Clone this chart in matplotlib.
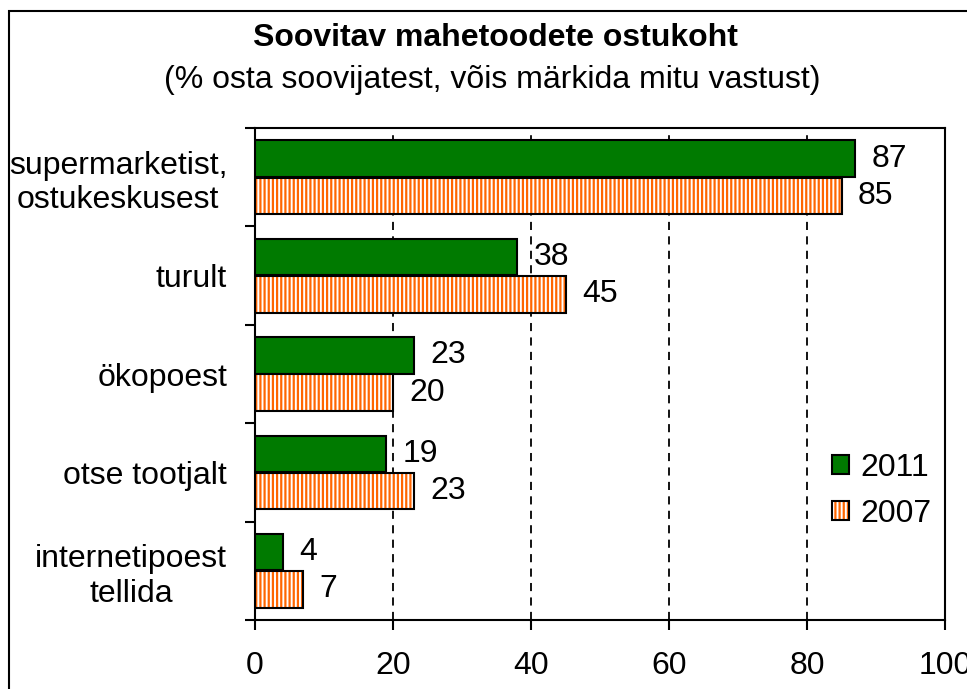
import matplotlib
matplotlib.use("Agg")
import matplotlib.pyplot as plt
from matplotlib.patches import Patch, Rectangle
from matplotlib.legend_handler import HandlerTuple
import numpy as np

categories = ["supermarketist,\nostukeskusest", "turult", "ökopoest", "otse tootjalt", "internetipoest\ntellida"]
values_2011 = [87, 38, 23, 19, 4]
values_2007 = [85, 45, 20, 23, 7]
series_labels = ["2011", "2007"]
xticks = [0, 20, 40, 60, 80, 100]
title = "Soovitav mahetoodete ostukoht"
subtitle = "(% osta soovijatest, võis märkida mitu vastust)"

GREEN = "#007A00"
ORANGE = "#FF6600"
FS = 23

plt.rcParams['font.family'] = ['Liberation Sans', 'DejaVu Sans']
plt.rcParams['hatch.linewidth'] = 1.6

W, H = 967, 689
fig = plt.figure(figsize=(W / 100, H / 100), dpi=100)
ax = fig.add_axes([255 / W, 1 - 620 / H, (945 - 255) / W, (620 - 128) / H])

y = np.arange(len(categories))
h = 0.37
off = 0.19

ax.set_axisbelow(True)
ax.xaxis.grid(True, color='black', linestyle=(0, (4.5, 3.5)), linewidth=1.3)

ax.barh(y - off, values_2011, height=h, color=GREEN, edgecolor='black', linewidth=1.5, zorder=3)
ax.barh(y + off, values_2007, height=h, color='white', edgecolor=ORANGE, hatch='||||', linewidth=0, zorder=3)
ax.barh(y + off, values_2007, height=h, fill=False, edgecolor='black', linewidth=1.5, zorder=4)

for yi, v in zip(y - off, values_2011):
    ax.text(v + 2.4, yi, str(v), va='center', ha='left', fontsize=FS)
for yi, v in zip(y + off, values_2007):
    ax.text(v + 2.4, yi, str(v), va='center', ha='left', fontsize=FS)

ax.set_xlim(0, 100)
ax.set_ylim(len(categories) - 0.5, -0.5)
ax.set_xticks(xticks)
ax.set_xticklabels([str(t) for t in xticks], fontsize=FS)
ax.tick_params(axis='x', direction='out', length=7, width=1.5, pad=15)

ax.set_yticks(y)
ax.set_yticklabels(categories, fontsize=FS, multialignment='center')
ax.tick_params(axis='y', which='major', length=0, pad=20)
ax.set_yticks(np.arange(-0.5, len(categories), 1.0), minor=True)
ax.tick_params(axis='y', which='minor', direction='out', length=7, width=1.5)

for s in ax.spines.values():
    s.set_linewidth(1.5)

# legend
h2011 = Patch(facecolor=GREEN, edgecolor='black', linewidth=1.5)
h2007a = Patch(facecolor='white', edgecolor=ORANGE, hatch='||||', linewidth=0)
h2007b = Patch(fill=False, edgecolor='black', linewidth=1.5)
ax.legend([h2011, (h2007a, h2007b)], series_labels,
          handler_map={tuple: HandlerTuple(ndivide=1)},
          loc='upper left', bbox_to_anchor=((826 - 255) / (945 - 255) - 0.01, 1 - (440 - 128) / (620 - 128)),
          frameon=False, fontsize=FS, handlelength=0.55, handleheight=0.55,
          handletextpad=0.35, labelspacing=0.5, borderaxespad=0)

fig.text(495 / W, 1 - 38 / H, title, ha='center', va='center', fontsize=FS, fontweight='bold')
fig.text(492 / W, 1 - 80 / H, subtitle, ha='center', va='center', fontsize=FS)

# outer frame
fig.patches.append(Rectangle((9 / W, -0.05), 1.2, 1 - 11 / H + 0.05, transform=fig.transFigure,
                             fill=False, edgecolor='black', linewidth=1.5, clip_on=False))

fig.savefig("out.png", dpi=100)
